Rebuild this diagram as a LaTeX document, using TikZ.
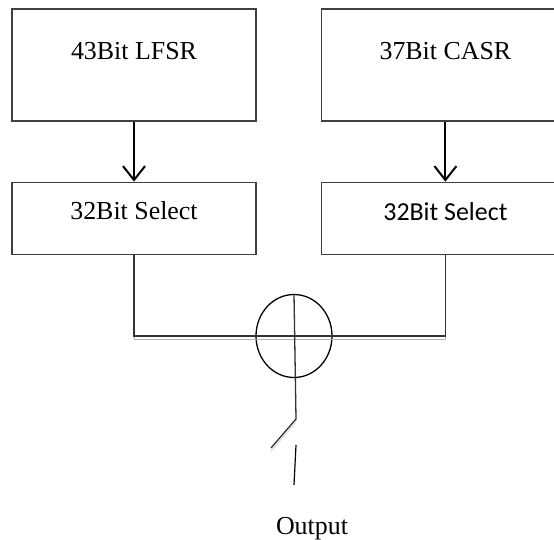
\documentclass[tikz,border=0pt]{standalone}
\usepackage{fontspec}
\setmainfont{Liberation Serif}
\newfontfamily\calibrifont{Carlito}
\usepackage{tikz}
\usetikzlibrary{shapes,arrows.meta,positioning,calc}

\begin{document}
\begin{tikzpicture}[
			x=1bp, y=-1bp,
			node distance=60bp and 64bp,
			box/.style={rectangle, draw=black!75, line width=1.4bp, inner xsep=0pt, inner ysep=0pt,
				font=\fontsize{26}{30}\selectfont},
			regbox/.style={box, minimum width=244bp, text height=51bp, text depth=61bp},
			selbox/.style={box, minimum width=244bp, text height=37bp, text depth=35bp},
			arrow/.style={-{Straight Barb[length=14bp, width=22bp, line width=2bp]}, line width=2bp},
			wire/.style={line width=1.3bp, draw=black!80,
				preaction={draw=black!30, transform canvas={yshift=-3bp}}}
			]
			\useasboundingbox (0,0) rectangle (554,540);
			\clip (0,0) rectangle (554,540);
			\node[regbox] (lfsr) at (134,65) {43Bit LFSR};
			\node[regbox, right=of lfsr, minimum width=248bp] (casr) {37Bit CASR};
			\node[selbox, below=of lfsr] (sel1) {32Bit Select};
			\node[selbox, below=of casr, minimum width=248bp, text height=38bp, text depth=34bp,
				font=\calibrifont\fontsize{26}{30}\selectfont] (sel2) {32Bit Select};
			\draw[arrow] (lfsr) -- (sel1);
			\draw[arrow] (casr) -- (sel2);
			% xor and output
			\node[draw, ellipse, line width=1.3bp, minimum width=76bp, minimum height=83bp, inner sep=0pt] (xor) at (294,336) {};
			\draw[wire] (sel1.south) -- (sel1.south |- xor.center) -- (sel2.south |- xor.center) -- (sel2.south);
			\coordinate (bend) at (296,419);
			\coordinate (tip) at (271,448);
			\coordinate (s1) at (296,445);
			\coordinate (s2) at (294,485);
			\draw[wire] (xor.north) -- (bend) -- (tip);
			\draw[line width=1.2bp] (s1) -- (s2);
			\node[anchor=base, font=\fontsize{26}{30}\selectfont] (out) at (312,534) {Output};
		\end{tikzpicture}
\end{document}
